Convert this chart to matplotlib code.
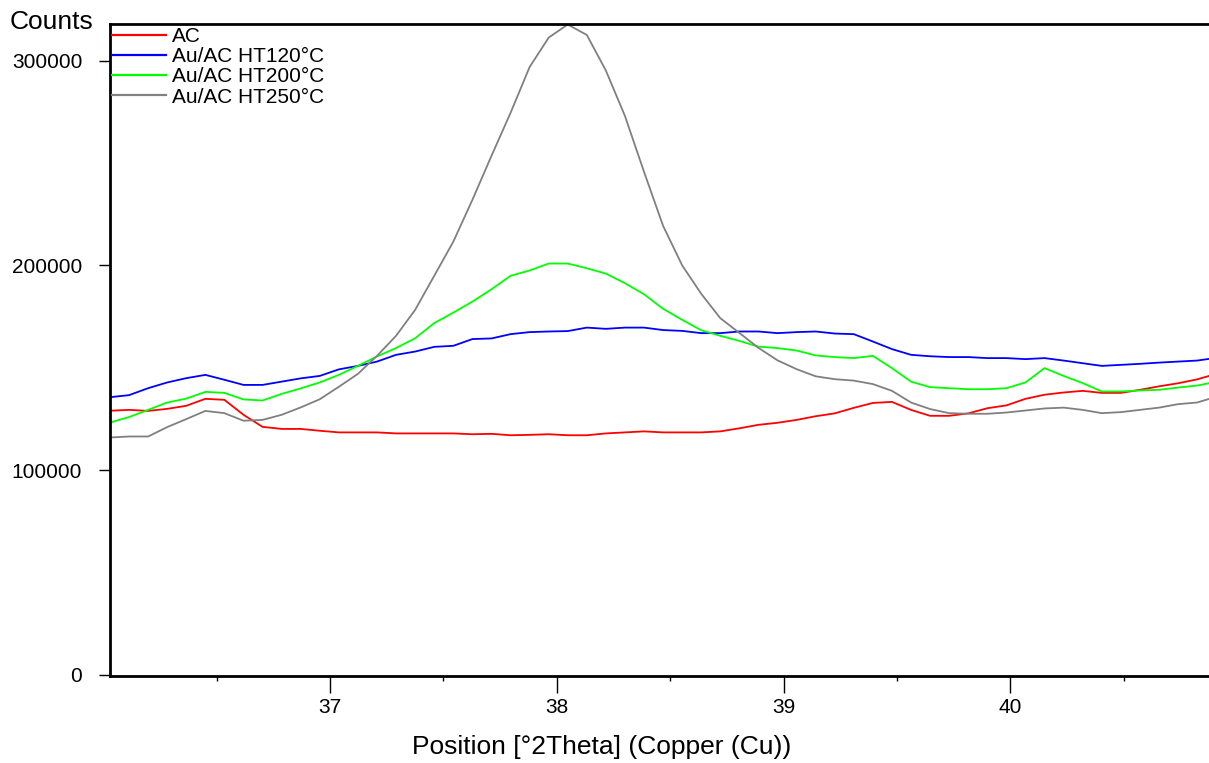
import numpy as np
import matplotlib
matplotlib.use("Agg")
import matplotlib.pyplot as plt
import matplotlib.ticker as ticker

# XRD scan grid (°2Theta): fixed start and step of the instrument
TWO_THETA_START = 36.030
TWO_THETA_STEP  = 0.0841

labels = ["AC", "Au/AC HT120°C", "Au/AC HT200°C", "Au/AC HT250°C"]
colors = ["#FF0000", "#0000FF", "#00FF00", "#808080"]

ac = [129000, 129400, 128900, 129900, 131400, 134800, 134300, 127000, 121100, 120100,
      120100, 119200, 118400, 118400, 118400, 117900, 117900, 117900, 117900, 117500,
      117700, 117000, 117200, 117500, 117000, 117000, 117900, 118400, 118900, 118400,
      118400, 118400, 118900, 120400, 122100, 123100, 124500, 126300, 127700, 130400,
      132800, 133300, 129400, 126500, 126500, 127700, 130200, 131600, 134800, 136800,
      137900, 138700, 137700, 137700, 139200, 140900, 142400, 144300, 147000]

ht120 = [135600, 136600, 140000, 142800, 144900, 146500, 144100, 141600, 141600, 143200,
         144800, 146000, 149200, 150900, 153000, 156300, 157900, 160200, 160700, 164000,
         164300, 166400, 167400, 167700, 167900, 169600, 169000, 169600, 169600, 168400,
         168000, 166900, 166900, 167700, 167700, 166900, 167400, 167700, 166700, 166400,
         162800, 159100, 156300, 155600, 155200, 155200, 154700, 154700, 154200, 154700,
         153500, 152200, 150900, 151400, 151900, 152500, 153000, 153500, 154800]

ht200 = [123200, 125900, 129400, 133000, 134900, 138200, 137700, 134500, 134000, 137200,
         139900, 142800, 146500, 150900, 155500, 159600, 164400, 171800, 176900, 182300,
         188300, 194900, 197500, 200900, 200900, 198600, 196000, 191300, 185900, 178800,
         173400, 168300, 165600, 163100, 160300, 159600, 158400, 156000, 155200, 154700,
         155800, 149800, 143200, 140500, 140000, 139500, 139500, 140000, 142800, 149800,
         146000, 142500, 138400, 138400, 138900, 139200, 140300, 141300, 143100]

ht250 = [115900, 116400, 116400, 121000, 124900, 128900, 127800, 124100, 124500, 127000,
         130600, 134600, 140700, 147000, 155800, 165600, 178300, 194900, 211600, 232000,
         253500, 274500, 296900, 311300, 317700, 312600, 295200, 273000, 245700, 219300,
         200000, 186100, 174200, 167000, 159700, 153600, 149300, 145800, 144400, 143700,
         142000, 138700, 133000, 129800, 127800, 127500, 127500, 128100, 129100, 130100,
         130500, 129400, 127800, 128300, 129400, 130500, 132200, 133000, 135800]

series = [ac, ht120, ht200, ht250]

plt.rcParams["font.family"] = ["Liberation Sans", "DejaVu Sans"]

W, H = 1209, 763
fig = plt.figure(figsize=(W / 100, H / 100), dpi=100)
ax = fig.add_axes([110 / W, (H - 676) / H, (W - 110) / W, (676 - 24.3) / H])

two_theta = TWO_THETA_START + TWO_THETA_STEP * np.arange(len(ac))
for y, lab, c in zip(series, labels, colors):
    ax.plot(two_theta, y, color=c, lw=1.3, label=lab, solid_joinstyle="miter")

ax.set_xlim(36.030, 40.876)
ax.set_ylim(-630, 317800)

ax.xaxis.set_major_locator(ticker.MultipleLocator(1))
ax.xaxis.set_minor_locator(ticker.MultipleLocator(0.5))
ax.yaxis.set_major_locator(ticker.MultipleLocator(100000))
ax.yaxis.set_major_formatter(ticker.FuncFormatter(lambda v, p: f"{v:.0f}"))

for s in ["left", "bottom", "top"]:
    ax.spines[s].set_linewidth(2.0)
ax.spines["right"].set_visible(False)

ax.tick_params(axis="y", which="major", length=8, width=1.0, pad=12, labelsize=15)
ax.tick_params(axis="x", which="major", length=12, width=1.0, pad=4, labelsize=15)
ax.tick_params(axis="x", which="minor", length=3.6, width=1.0)

leg = ax.legend(loc="upper left", bbox_to_anchor=(0.0015, 0.996), frameon=False,
                fontsize=15, handlelength=2.6, handletextpad=0.28,
                labelspacing=0.06, borderpad=0.0, borderaxespad=0.0)
for line in leg.get_lines():
    line.set_linewidth(1.6)

fig.text(10 / W, 1 - 22 / H, "Counts", fontsize=19, ha="left", va="center")
fig.text(602 / W, 1 - 747 / H, "Position [°2Theta] (Copper (Cu))",
         fontsize=19, ha="center", va="center")

fig.savefig("out.png", dpi=100)
